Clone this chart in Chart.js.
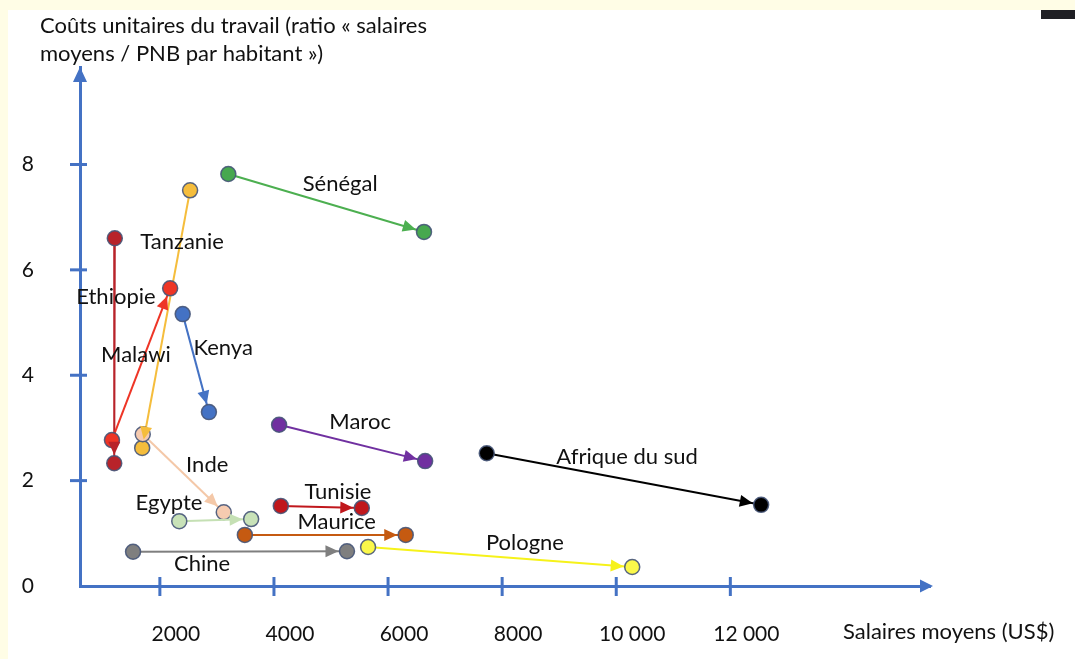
<!DOCTYPE html>
<html lang="fr">
  <head>
    <meta charset="UTF-8" />
    <script src="https://cdn.jsdelivr.net/npm/chart.js@4/dist/chart.umd.min.js"></script>
    <title>Coûts unitaires du travail</title>
    <style>
      body { margin: 0; background: #fffde6; }
      #wrap { width: 1075px; height: 659px; }
    </style>
  </head>
  <body>
    <div id="wrap"><canvas id="chart" width="1075" height="659"></canvas></div>
    <script>
      // values (start of arrow -> end of arrow)
      const countries = ["Sénégal", "Tanzanie", "Ethiopie", "Malawi", "Kenya", "Inde", "Egypte", "Chine", "Maroc", "Afrique du sud", "Tunisie", "Maurice", "Pologne"];
      const wageStart = [3200, 2530, 1210, 1160, 2400, 1700, 2340, 1530, 4090, 7730, 4120, 3490, 5650];
      const costStart = [7.82, 7.51, 6.6, 2.77, 5.16, 2.88, 1.23, 0.65, 3.06, 2.52, 1.52, 0.97, 0.74];
      const wageEnd = [6630, 1690, 1200, 2180, 2860, 3120, 3600, 5280, 6650, 12540, 5540, 6310, 10280];
      const costEnd = [6.72, 2.62, 2.33, 5.65, 3.3, 1.4, 1.27, 0.66, 2.37, 1.54, 1.48, 0.97, 0.36];

      // where each country name sits (data units)
      const labelWage = [5160, 2390, 1230, 1580, 3110, 2830, 2160, 2740, 5510, 10190, 5120, 5100, 8400];
      const labelCost = [7.63, 6.53, 5.48, 4.38, 4.52, 2.3, 1.57, 0.42, 3.11, 2.45, 1.78, 1.21, 0.82];

      const xTickValues = [2000, 4000, 6000, 8000, 10000, 12000];
      const xTickLabels = ["2000", "4000", "6000", "8000", "10 000", "12 000"];
      const yTickValues = [0, 2, 4, 6, 8];
      const yTickLabels = ["0", "2", "4", "6", "8"];

      const yTitle = ["Coûts unitaires du travail (ratio « salaires", "moyens / PNB par habitant »)"];
      const xTitle = "Salaires moyens (US$)";

      const lineColors = ["#4caf50", "#f5bd3c", "#b8232a", "#ee3526", "#4472c4", "#f4c8a8", "#c5e0b4", "#7f7f7f", "#7030a0", "#000000", "#c0171c", "#c55a11", "#f6f21a"];
      const pointColors = ["#47a84f", "#f5bd3c", "#b8232a", "#ee3526", "#4472c4", "#f6cbb0", "#c8e2b8", "#7f7f7f", "#7030a0", "#000000", "#c0171c", "#c55a11", "#fbf84a"];

      const axisBlue = "#4472c4";
      const FONT = "Lato, 'Open Sans', sans-serif";

      const datasets = countries.map((c, i) => ({
        label: c,
        data: [
          { x: wageStart[i], y: costStart[i] },
          { x: wageEnd[i], y: costEnd[i] },
        ],
        showLine: true,
        borderColor: lineColors[i],
        borderWidth: 2,
        pointRadius: 7.5,
        pointBackgroundColor: pointColors[i],
        pointBorderColor: "rgba(70,85,120,0.9)",
        pointBorderWidth: 1.5,
        order: countries.length - i,
      }));

      const slide = {
        id: "slide",
        beforeDraw(chart) {
          const ctx = chart.ctx;
          ctx.save();
          ctx.fillStyle = "#fffde6";
          ctx.fillRect(0, 0, chart.width, chart.height);
          ctx.fillStyle = "#ffffff";
          ctx.fillRect(8, 10, chart.width - 8, chart.height - 10);
          ctx.fillStyle = "#1f1f24";
          ctx.fillRect(1041, 10, 34, 9);
          ctx.restore();
        },
        afterDatasetsDraw(chart) {
          const ctx = chart.ctx;
          const xs = chart.scales.x;
          const ys = chart.scales.y;
          const area = chart.chartArea;
          ctx.save();

          // crossing tick marks
          ctx.strokeStyle = axisBlue;
          ctx.lineWidth = 3;
          yTickValues.forEach((v) => {
            if (v === 0) return;
            const y = ys.getPixelForValue(v);
            ctx.beginPath();
            ctx.moveTo(area.left - 10, y);
            ctx.lineTo(area.left + 7, y);
            ctx.stroke();
          });
          xTickValues.forEach((v) => {
            const x = xs.getPixelForValue(v);
            ctx.beginPath();
            ctx.moveTo(x, area.bottom - 9);
            ctx.lineTo(x, area.bottom + 10);
            ctx.stroke();
          });

          // axis arrowheads
          ctx.fillStyle = axisBlue;
          ctx.beginPath();
          ctx.moveTo(area.left, area.top);
          ctx.lineTo(area.left - 7, area.top + 15);
          ctx.lineTo(area.left + 7, area.top + 15);
          ctx.closePath();
          ctx.fill();
          ctx.beginPath();
          ctx.moveTo(area.right + 3, area.bottom);
          ctx.lineTo(area.right - 10, area.bottom - 6.5);
          ctx.lineTo(area.right - 10, area.bottom + 6.5);
          ctx.closePath();
          ctx.fill();

          // arrowheads on each country line
          chart.data.datasets.forEach((ds, i) => {
            const pts = chart.getDatasetMeta(i).data;
            const a = pts[0], b = pts[1];
            let dx = b.x - a.x, dy = b.y - a.y;
            const len = Math.hypot(dx, dy);
            dx /= len; dy /= len;
            const tx = b.x - dx * 8.5, ty = b.y - dy * 8.5;
            const bx = tx - dx * 13, by = ty - dy * 13;
            ctx.fillStyle = ds.borderColor;
            ctx.beginPath();
            ctx.moveTo(tx, ty);
            ctx.lineTo(bx - dy * 6, by + dx * 6);
            ctx.lineTo(bx + dy * 6, by - dx * 6);
            ctx.closePath();
            ctx.fill();
          });

          // country names
          ctx.fillStyle = "#111";
          ctx.font = "22px " + FONT;
          ctx.textAlign = "center";
          ctx.textBaseline = "middle";
          countries.forEach((c, i) => {
            ctx.fillText(c, xs.getPixelForValue(labelWage[i]), ys.getPixelForValue(labelCost[i]));
          });

          // axis titles
          ctx.font = "22px " + FONT;
          ctx.textAlign = "left";
          ctx.fillText(yTitle[0], 40, 26);
          ctx.fillText(yTitle[1], 40, 54);
          ctx.fillText(xTitle, 843, 632);
          ctx.restore();
        },
      };

      new Chart(document.getElementById("chart"), {
        type: "scatter",
        data: { datasets: datasets },
        options: {
          responsive: false,
          animation: false,
          layout: { padding: { top: 67, right: 145, left: 0, bottom: 0 } },
          plugins: { legend: { display: false }, tooltip: { enabled: false } },
          scales: {
            x: {
              type: "linear",
              min: 600,
              max: 15500,
              afterBuildTicks: (s) => { s.ticks = xTickValues.map((v) => ({ value: v })); },
              afterFit: (s) => { s.height = 73; },
              ticks: {
                callback: (v) => xTickLabels[xTickValues.indexOf(v)],
                padding: 36,
                labelOffset: 16,
                maxRotation: 0,
                autoSkip: false,
                color: "#111",
                font: { family: FONT, size: 21 },
              },
              grid: { display: false, drawTicks: false },
              border: { display: true, color: axisBlue, width: 3 },
            },
            y: {
              min: 0,
              max: 9.85,
              afterBuildTicks: (s) => { s.ticks = yTickValues.map((v) => ({ value: v })); },
              afterFit: (s) => { s.width = 80; },
              ticks: {
                callback: (v) => yTickLabels[yTickValues.indexOf(v)],
                padding: 46,
                color: "#111",
                font: { family: FONT, size: 21 },
              },
              grid: { display: false, drawTicks: false },
              border: { display: true, color: axisBlue, width: 3 },
            },
          },
        },
        plugins: [slide],
      });
    </script>
  </body>
</html>
